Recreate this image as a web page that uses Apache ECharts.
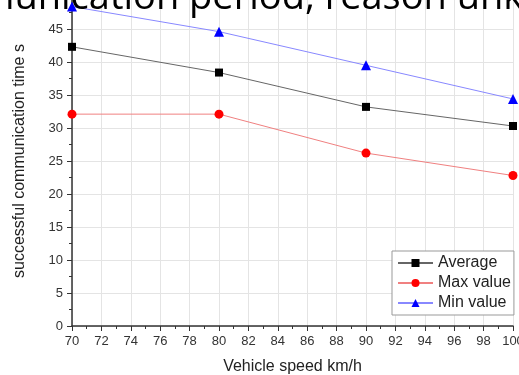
<!DOCTYPE html>
<html>
<head>
<meta charset="utf-8">
<script src="https://cdn.jsdelivr.net/npm/echarts@6/dist/echarts.min.js"></script>
<style>
html,body{margin:0;padding:0;background:#fff;}
#chart{width:519px;height:375px;}
</style>
</head>
<body>
<div id="chart"></div>
<script>
var speeds = [70, 80, 90, 100];
var averageValues = [42.3, 38.4, 33.2, 30.3];
var maxValues = [32.1, 32.1, 26.2, 22.8];
var minValues = [48.4, 44.6, 39.5, 34.4];
var seriesNames = ['Average', 'Max value', 'Min value'];
var xAxisTitle = 'Vehicle speed km/h';
var yAxisTitle = 'successful communication time s';
var overlayText = 'communication period, reason unknown';

function pairs(vals){ return speeds.map(function(s,i){ return [s, vals[i]]; }); }

var chart = echarts.init(document.getElementById('chart'), null, {renderer:'canvas'});
var axisFont = 'Liberation Sans, Arial, sans-serif';
chart.setOption({
  animation: false,
  backgroundColor: '#fff',
  grid: { left: 72, right: 6, top: -4, bottom: 49, containLabel: false, outerBoundsMode: 'none' },
  xAxis: {
    type: 'value', min: 70, max: 100, interval: 2,
    name: xAxisTitle, nameLocation: 'middle', nameGap: 33,
    nameTextStyle: { fontSize: 16, color: '#222', fontFamily: axisFont },
    axisLine: { show: true, lineStyle: { color: '#333', width: 1.5 } },
    axisTick: { show: true, inside: false, length: 5, lineStyle: { color: '#333' } },
    minorTick: { show: true, splitNumber: 2, length: 3, lineStyle: { color: '#333' } },
    axisLabel: { fontSize: 13, color: '#333', margin: 9, fontFamily: axisFont },
    splitLine: { show: true, lineStyle: { color: '#e4e4e4', width: 1 } }
  },
  yAxis: {
    type: 'value', min: 0, max: 50, interval: 5,
    name: yAxisTitle, nameLocation: 'middle', nameGap: 44,
    nameTextStyle: { fontSize: 16, color: '#222', fontFamily: axisFont },
    axisLine: { show: true, lineStyle: { color: '#333', width: 1.5 } },
    axisTick: { show: true, inside: false, length: 5, lineStyle: { color: '#333' } },
    minorTick: { show: true, splitNumber: 2, length: 3, lineStyle: { color: '#333' } },
    axisLabel: { fontSize: 13, color: '#333', margin: 9, fontFamily: axisFont },
    splitLine: { show: true, lineStyle: { color: '#e4e4e4', width: 1 } }
  },
  legend: {
    orient: 'vertical', left: 392, top: 251,
    padding: [4, 3, 4, 5], itemGap: 4, itemWidth: 35, itemHeight: 10,
    backgroundColor: '#fff', borderColor: '#999', borderWidth: 1,
    textStyle: { fontSize: 16, lineHeight: 16, color: '#222', fontFamily: axisFont },
    data: seriesNames
  },
  series: [
    { name: seriesNames[0], type: 'line', data: pairs(averageValues),
      symbol: 'rect', symbolSize: 8, itemStyle: { color: '#000' },
      lineStyle: { color: '#666', width: 1 } },
    { name: seriesNames[1], type: 'line', data: pairs(maxValues),
      symbol: 'circle', symbolSize: 9, itemStyle: { color: '#ff0000' },
      lineStyle: { color: '#f08080', width: 1 } },
    { name: seriesNames[2], type: 'line', data: pairs(minValues),
      symbol: 'triangle', symbolSize: 10, itemStyle: { color: '#0000ff' },
      lineStyle: { color: '#8888ff', width: 1 } }
  ],
  graphic: [{
    type: 'text', left: -97, top: -21, z: 100, silent: true,
    style: { text: overlayText, fontSize: 38, fontFamily: 'Open Sans', fill: '#000' }
  }]
});
</script>
</body>
</html>
